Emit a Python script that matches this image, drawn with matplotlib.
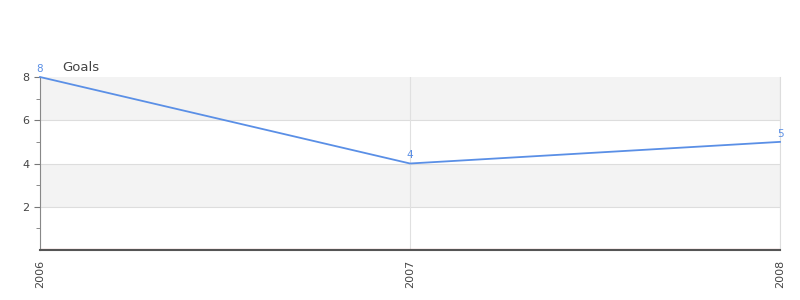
import matplotlib.pyplot as plt
import numpy as np

years = ["2006", "2007", "2008"]
goals = [8, 4, 5]
y_ticks = [2, 4, 6, 8]

line_col = "#5a8fe6"
fig = plt.figure(figsize=(8, 3), dpi=100)
ax = fig.add_axes([0.05, 0.1667, 0.925, 0.5766])

x = np.arange(len(years))
ax.set_xlim(0, len(years) - 1)
ax.set_ylim(0, 8)

# alternating bands
for lo in range(0, 8, 2):
    if (lo // 2) % 2 == 1:
        ax.axhspan(lo, lo + 2, color="#f3f3f3", zorder=0, lw=0)
for yv in y_ticks[:-1]:
    ax.axhline(yv, color="#dddddd", lw=0.8, zorder=1)
for xv in x:
    ax.axvline(xv, color="#e0e0e0", lw=0.8, zorder=1)

ax.plot(x, goals, color=line_col, lw=1.3, zorder=3, clip_on=False)
for xi, g in zip(x, goals):
    ax.text(xi, g + 0.15, str(g), color=line_col, fontsize=7.5,
            ha="center", va="bottom", zorder=4)
ax.axhline(0.04, color="#cc0000", lw=0.8, zorder=2)

ax.set_xticks(x)
ax.set_xticklabels(years, rotation=90, fontsize=8, color="#444444")
ax.set_yticks(y_ticks)
ax.set_yticks([1, 3, 5, 7], minor=True)
ax.tick_params(axis="y", labelsize=8, colors="#444444", length=4, color="#777777")
ax.tick_params(axis="y", which="minor", length=3, color="#777777")
ax.tick_params(axis="x", length=0, pad=7)

ax.spines["top"].set_visible(False)
ax.spines["right"].set_color("#dddddd")
ax.spines["left"].set_color("#888888")
ax.spines["bottom"].set_color("#555555")
ax.spines["bottom"].set_linewidth(1.5)

fig.text(62 / 800, 1 - 67 / 300, "Goals", fontsize=9.5, color="#444444",
         va="center", ha="left")

fig.savefig("out.png", dpi=100)
